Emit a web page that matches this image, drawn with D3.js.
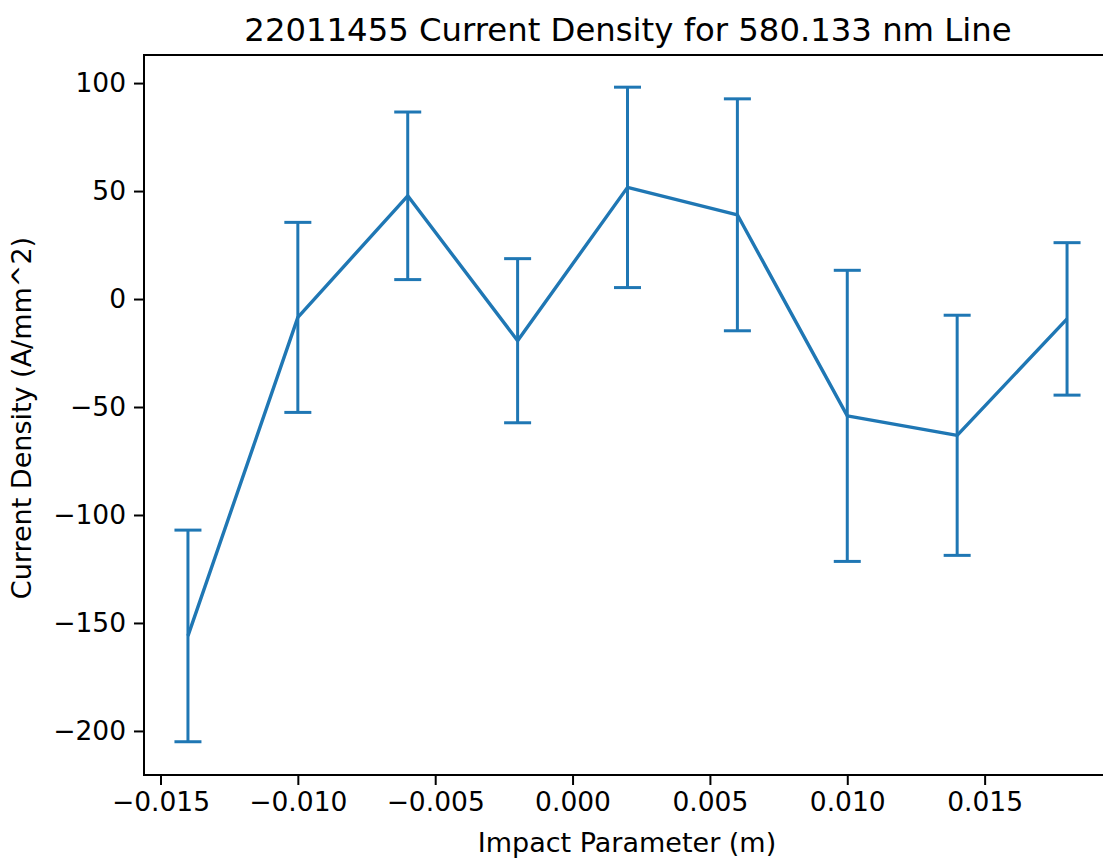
<!DOCTYPE html>
<html>
<head>
<meta charset="utf-8">
<script src="https://cdn.jsdelivr.net/npm/d3@7"></script>
<style>
  body { margin: 0; background: #fff; }
  svg text { font-family: "DejaVu Sans", sans-serif; fill: #000; }
</style>
</head>
<body>
<div id="chart"></div>
<script>
// impact parameter (m), current density (A/mm^2) and error
var impact = [-0.014, -0.010, -0.006, -0.002, 0.002, 0.006, 0.010, 0.014, 0.018];
var density = [-156, -8.5, 47.8, -19.3, 51.7, 39, -54.1, -63.1, -9.2];
var errors = [49, 44, 38.8, 38, 46.4, 53.7, 67.4, 55.6, 35.3];
var xTicks = [-0.015, -0.010, -0.005, 0.000, 0.005, 0.010, 0.015];
var yTicks = [-200, -150, -100, -50, 0, 50, 100];

var W = 1103, H = 860;
var margin = { top: 55, left: 144, bottom: 85, right: -8 };
var width = W - margin.left - margin.right,
  height = H - margin.top - margin.bottom;

var svg = d3
  .select("#chart")
  .append("svg")
  .attr("width", W)
  .attr("height", H);

var g = svg
  .append("g")
  .attr("transform", "translate(" + margin.left + "," + margin.top + ")");

var x = d3.scaleLinear().domain([-0.0156, 0.0196]).range([0, width]);
var y = d3.scaleLinear().domain([-220.4, 113]).range([height, 0]);

var color = "#1f77b4";

// line
var line = d3
  .line()
  .x((d, i) => x(impact[i]))
  .y((d) => y(d));

g.append("path")
  .datum(density)
  .attr("fill", "none")
  .attr("stroke", color)
  .attr("stroke-width", 3.4)
  .attr("stroke-linejoin", "round")
  .attr("d", line);

// error bars
var bars = g
  .selectAll(".err")
  .data(density)
  .enter()
  .append("g")
  .attr("class", "err")
  .attr("stroke", color)
  .attr("stroke-width", 3);

bars
  .append("line")
  .attr("x1", (d, i) => x(impact[i]))
  .attr("x2", (d, i) => x(impact[i]))
  .attr("y1", (d, i) => y(d - errors[i]))
  .attr("y2", (d, i) => y(d + errors[i]));

[-1, 1].forEach(function (s) {
  bars
    .append("line")
    .attr("x1", (d, i) => x(impact[i]) - 13.5)
    .attr("x2", (d, i) => x(impact[i]) + 13.5)
    .attr("y1", (d, i) => y(d + s * errors[i]))
    .attr("y2", (d, i) => y(d + s * errors[i]));
});

// axes
var fmtX = (d) => (d < 0 ? "\u2212" : "") + Math.abs(d).toFixed(3);
var fmtY = (d) => (d < 0 ? "\u2212" : "") + Math.abs(d);

var xAxis = g
  .append("g")
  .attr("transform", "translate(0," + height + ")")
  .call(d3.axisBottom(x).tickValues(xTicks).tickFormat(fmtX).tickSize(10).tickPadding(7).tickSizeOuter(0));
var yAxis = g
  .append("g")
  .call(d3.axisLeft(y).tickValues(yTicks).tickFormat(fmtY).tickSize(10).tickPadding(8).tickSizeOuter(0));

[xAxis, yAxis].forEach(function (a) {
  a.select(".domain").remove();
  a.selectAll("line").attr("stroke", "#000").attr("stroke-width", 2);
  a.selectAll("text").style("font-size", "26.5px").attr("fill", "#000");
});

// frame
g.append("rect")
  .attr("width", width)
  .attr("height", height)
  .attr("fill", "none")
  .attr("stroke", "#000")
  .attr("stroke-width", 2);

// titles
svg
  .append("text")
  .attr("x", 628)
  .attr("y", 41)
  .attr("text-anchor", "middle")
  .style("font-size", "32.3px")
  .text("22011455 Current Density for 580.133 nm Line");

svg
  .append("text")
  .attr("x", 627)
  .attr("y", 852)
  .attr("text-anchor", "middle")
  .style("font-size", "27px")
  .text("Impact Parameter (m)");

svg
  .append("text")
  .attr("transform", "translate(31," + 418 + ")rotate(-90)")
  .attr("text-anchor", "middle")
  .style("font-size", "27px")
  .text("Current Density (A/mm^2)");
</script>
</body>
</html>
